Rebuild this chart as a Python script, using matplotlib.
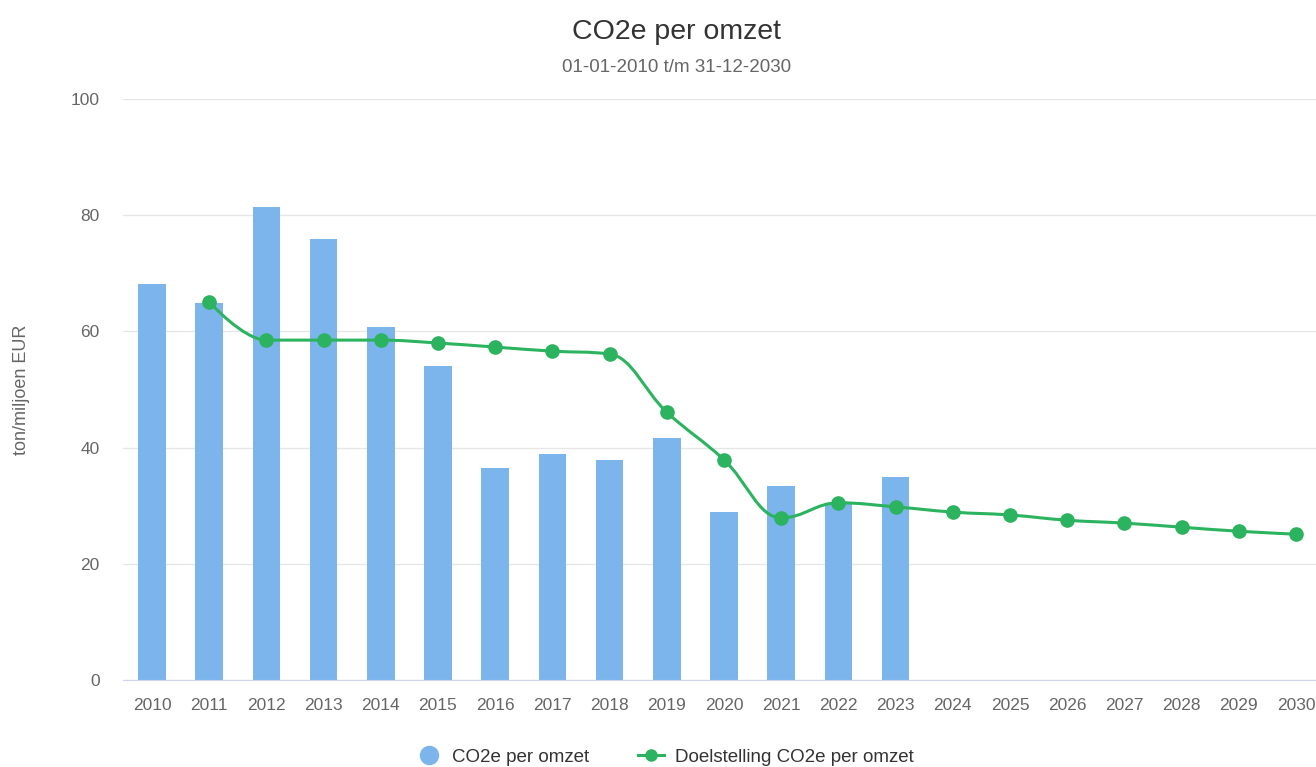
import numpy as np
import matplotlib
matplotlib.use("Agg")
import matplotlib.pyplot as plt
from matplotlib.path import Path
from matplotlib.patches import PathPatch
from matplotlib.lines import Line2D

plt.rcParams['font.family'] = ['Liberation Sans', 'DejaVu Sans']

# data
years = [str(y) for y in range(2010, 2031)]
actual_years = years[:14]
actual = [68.2, 64.9, 81.4, 75.9, 60.8, 54.0, 36.5, 38.9, 37.9, 41.7, 28.9, 33.4, 30.4, 34.9]
target_years = years[1:]
target = [65.1, 58.5, 58.5, 58.5, 58.0, 57.3, 56.6, 56.1, 46.1, 37.9, 27.9, 30.5, 29.8,
          28.9, 28.4, 27.5, 27.0, 26.3, 25.6, 25.1]

bar_color = '#7cb5ec'
line_color = '#2bb35f'
text_color = '#666666'


def spline_path(xs, ys, smoothing=1.5):
    # highcharts-like spline: cubic bezier with control points from neighbours
    n = len(xs)
    left = [None] * n
    right = [None] * n
    denom = smoothing + 1
    for i in range(1, n - 1):
        px, py = xs[i], ys[i]
        lx, ly = xs[i - 1], ys[i - 1]
        nx, ny = xs[i + 1], ys[i + 1]
        lcx = (smoothing * px + lx) / denom
        lcy = (smoothing * py + ly) / denom
        rcx = (smoothing * px + nx) / denom
        rcy = (smoothing * py + ny) / denom
        if rcx != lcx:
            corr = (rcy - lcy) * (rcx - px) / (rcx - lcx) + py - rcy
            lcy += corr
            rcy += corr
        if lcy > ly and lcy > py:
            lcy = max(ly, py)
            rcy = 2 * py - lcy
        elif lcy < ly and lcy < py:
            lcy = min(ly, py)
            rcy = 2 * py - lcy
        if rcy > ny and rcy > py:
            rcy = max(ny, py)
            lcy = 2 * py - rcy
        elif rcy < ny and rcy < py:
            rcy = min(ny, py)
            lcy = 2 * py - rcy
        left[i] = (lcx, lcy)
        right[i] = (rcx, rcy)
    verts = [(xs[0], ys[0])]
    codes = [Path.MOVETO]
    for i in range(1, n):
        c1 = right[i - 1] if right[i - 1] else (xs[i - 1], ys[i - 1])
        c2 = left[i] if left[i] else (xs[i], ys[i])
        verts += [c1, c2, (xs[i], ys[i])]
        codes += [Path.CURVE4] * 3
    return Path(verts, codes)


fig = plt.figure(figsize=(13.16, 7.67), dpi=100)
ax = fig.add_axes([123.4 / 1316, 87 / 767, 1201.2 / 1316, 581 / 767])

x_all = np.arange(len(years))
x_act = [years.index(y) for y in actual_years]
x_tgt = [years.index(y) for y in target_years]

ax.bar(x_act, actual, width=0.48, color=bar_color, zorder=2)
ax.add_patch(PathPatch(spline_path(x_tgt, target), fill=False, edgecolor=line_color,
                       lw=2.2, zorder=3, capstyle='round'))
ax.plot(x_tgt, target, linestyle='none', marker='o', markersize=9.5,
        color=line_color, zorder=4)

ax.set_xlim(-0.5, len(years) - 0.5)
ax.set_ylim(0, 100)
ax.set_yticks([0, 20, 40, 60, 80, 100])
ax.set_xticks(x_all)
ax.set_xticklabels(years)
ax.grid(axis='y', color='#e6e6e6', lw=1, zorder=0)
ax.set_axisbelow(True)
for s in ['top', 'right', 'left']:
    ax.spines[s].set_visible(False)
ax.spines['bottom'].set_color('#ccd6eb')
ax.tick_params(axis='both', length=0, colors=text_color, labelsize=12.5)
ax.tick_params(axis='y', pad=17)
ax.tick_params(axis='x', pad=13)

fig.text(22 / 1316, 1 - 390 / 767, 'ton/miljoen EUR', rotation=90, ha='center',
         va='center', fontsize=13, color=text_color)
fig.text(0.514, 1 - 32 / 767, 'CO2e per omzet', ha='center', va='center',
         fontsize=20.5, color='#333333')
fig.text(0.514, 1 - 68 / 767, '01-01-2010 t/m 31-12-2030', ha='center', va='center',
         fontsize=13.5, color=text_color)

handles = [
    Line2D([], [], linestyle='none', marker='o', markersize=13, color=bar_color),
    Line2D([], [], color=line_color, lw=2.2, marker='o', markersize=8),
]
fig.legend(handles, ['CO2e per omzet', 'Doelstelling CO2e per omzet'],
           loc='center', bbox_to_anchor=(0.505, 1 - 757 / 767), ncol=2, frameon=False,
           fontsize=13.5, labelcolor='#333333', handlelength=1.4, columnspacing=2.6,
           handletextpad=0.55)

fig.savefig('out.png', dpi=100)
